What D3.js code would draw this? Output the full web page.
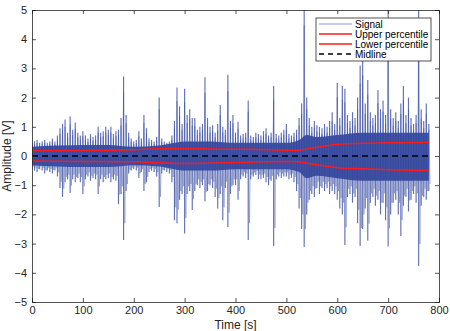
<!DOCTYPE html>
<html><head><meta charset="utf-8">
<script src="https://cdn.jsdelivr.net/npm/d3@7"></script>
<style>
html,body{margin:0;padding:0;background:#fff;}
svg{display:block;font-family:"Liberation Sans",Arial,sans-serif;}
</style></head>
<body>
<svg id="c" width="450" height="331"></svg>
<script>
// ---- data ----
const binStart = 0, binStep = 5; // seconds per envelope bin
const signalHigh = [
 0.45,0.5,0.55,0.45,0.5,0.55,0.45,0.5,0.6,0.5,
 0.7,0.95,1.1,1.25,0.8,1.35,0.9,1.15,0.8,0.7,
 0.85,0.7,0.6,0.75,0.65,0.7,1.0,0.8,0.85,1.0,
 0.9,1.0,0.75,0.85,0.9,1.3,2.72,1.4,0.8,0.6,
 0.5,0.55,0.85,0.6,1.4,0.95,0.6,0.55,0.5,0.65,
 2.0,0.6,0.5,0.45,0.5,0.7,1.2,2.35,1.7,1.1,
 2.3,1.4,1.6,1.3,1.3,0.9,1.0,1.1,2.7,1.3,
 1.0,1.05,0.8,1.1,1.75,1.0,0.9,2.78,1.2,1.4,
 0.8,1.17,0.7,0.75,0.8,1.9,0.7,0.65,0.8,0.75,
 0.7,0.85,0.95,0.7,0.8,2.4,0.75,0.7,0.8,0.9,
 1.1,0.75,0.7,0.8,0.9,1.3,1.8,5.6,2.0,1.3,
 1.0,1.2,1.05,1.0,0.95,1.1,1.0,1.2,1.5,1.1,
 2.5,1.3,2.4,2.3,1.4,1.2,1.5,1.3,2.0,3.1,
 3.45,1.8,2.6,1.5,1.3,1.4,2.26,1.6,1.9,1.4,
 5.6,1.6,1.3,1.5,1.2,1.8,2.4,1.4,2.0,1.3,
 1.1,1.4,5.6,1.6,1.2,1.8,1.1
];
const signalLow = [
 -0.45,-0.5,-0.55,-0.45,-0.5,-0.6,-0.5,-0.55,-0.6,-0.5,
 -0.7,-1.1,-1.4,-0.9,-0.8,-1.27,-0.8,-0.9,-0.75,-0.9,
 -1.3,-0.8,-0.7,-0.85,-0.75,-0.8,-1.3,-0.8,-0.9,-0.8,
 -0.75,-0.9,-0.8,-0.85,-1.65,-1.3,-2.88,-1.2,-0.6,-0.5,
 -0.45,-0.5,-0.75,-0.55,-1.2,-0.9,-0.55,-0.5,-0.55,-0.7,
 -1.75,-0.6,-0.5,-0.55,-0.6,-0.9,-2.2,-2.3,-1.5,-1.3,
 -2.65,-1.3,-1.2,-1.85,-1.2,-1.0,-1.1,-1.0,-1.55,-1.2,
 -1.0,-1.1,-1.4,-1.8,-1.3,-2.2,-1.1,-2.43,-1.3,-1.0,
 -1.0,-1.5,-0.8,-0.7,-0.75,-2.88,-0.8,-0.7,-0.65,-0.8,
 -0.8,-0.75,-0.9,-1.0,-0.85,-3.08,-0.8,-0.7,-0.75,-0.7,
 -0.7,-0.8,-0.75,-0.9,-1.2,-1.8,-2.5,-3.12,-2.0,-1.5,
 -1.3,-1.4,-1.1,-1.3,-1.1,-1.2,-1.1,-1.3,-1.2,-1.3,
 -1.5,-1.8,-2.0,-3.05,-1.4,-1.3,-1.6,-1.4,-2.3,-3.08,
 -2.5,-1.8,-2.9,-1.6,-1.4,-1.7,-1.5,-2.0,-1.6,-2.2,
 -3.1,-2.0,-1.6,-1.5,-2.0,-2.74,-1.7,-1.4,-1.9,-1.5,
 -1.3,-1.6,-3.77,-1.7,-1.4,-1.5,-1.2
];
// dense core of the signal (solid dark band)
const coreTime = [0,50,100,150,200,250,280,300,350,400,450,500,525,540,560,600,650,700,780];
const coreHigh = [0.32,0.36,0.38,0.38,0.32,0.36,0.45,0.5,0.5,0.45,0.45,0.45,0.55,0.72,0.65,0.72,0.8,0.8,0.8];
const coreLow  = [-0.32,-0.36,-0.38,-0.38,-0.32,-0.36,-0.45,-0.5,-0.5,-0.45,-0.45,-0.45,-0.55,-0.76,-0.68,-0.76,-0.85,-0.85,-0.85];
const pctTime  = [0,100,200,250,300,350,400,450,500,520,560,600,650,700,780];
const pctUpper = [0.18,0.19,0.21,0.25,0.25,0.24,0.23,0.22,0.2,0.2,0.3,0.4,0.44,0.45,0.47];
const pctLower = [-0.17,-0.19,-0.2,-0.23,-0.26,-0.24,-0.22,-0.2,-0.19,-0.2,-0.3,-0.4,-0.44,-0.47,-0.5];
const midTime  = [0,780];
const midValue = [0,0];
const xTicks = [0,100,200,300,400,500,600,700,800];
const yTicks = [-5,-4,-3,-2,-1,0,1,2,3,4,5];
const legendLabels = ["Signal","Upper percentile","Lower percentile","Midline"];

// ---- layout ----
const L = 32, R = 439, T = 10, B = 302;
const svg = d3.select("#c");
const x = d3.scaleLinear().domain([0,800]).range([L,R]);
const y = d3.scaleLinear().domain([-5,5]).range([B,T]);

svg.append("defs").append("clipPath").attr("id","clip")
  .append("rect").attr("x",L).attr("y",T).attr("width",R-L).attr("height",B-T);

const plot = svg.append("g").attr("clip-path","url(#clip)");

// signal: envelope strokes per bin
const bins = signalHigh.map((h,i)=>({t: binStart + i*binStep, hi: h, lo: signalLow[i]}));
plot.selectAll("line.sig").data(bins).enter().append("line")
  .attr("x1",d=>x(d.t)).attr("x2",d=>x(d.t))
  .attr("y1",d=>y(d.hi)).attr("y2",d=>y(d.lo))
  .attr("stroke","#3a4da2").attr("stroke-opacity",0.8).attr("stroke-width",1.15);
// zigzag linking bins (thin)
const zz = [];
bins.forEach(d=>{ zz.push([d.t, d.hi*0.8]); zz.push([d.t+binStep/2, d.lo*0.8]); });
const line = d3.line().x(d=>x(d[0])).y(d=>y(d[1]));
plot.append("path").datum(zz).attr("d",line)
  .attr("fill","none").attr("stroke","#3a4da2").attr("stroke-opacity",0.5).attr("stroke-width",0.7);
// dense core
const core = coreTime.map((t,i)=>({t, hi: coreHigh[i], lo: coreLow[i]}));
plot.append("path").datum(core)
  .attr("d", d3.area().x(d=>x(d.t)).y0(d=>y(d.lo)).y1(d=>y(d.hi)).curve(d3.curveMonotoneX))
  .attr("fill","#34479d").attr("fill-opacity",0.92);

// percentile lines
const pu = pctTime.map((t,i)=>[t,pctUpper[i]]);
const pl = pctTime.map((t,i)=>[t,pctLower[i]]);
const sm = d3.line().x(d=>x(d[0])).y(d=>y(d[1])).curve(d3.curveMonotoneX);
plot.append("path").datum(pu).attr("d",sm).attr("fill","none").attr("stroke","#ff1a1a").attr("stroke-width",1.5);
plot.append("path").datum(pl).attr("d",sm).attr("fill","none").attr("stroke","#ff1a1a").attr("stroke-width",1.5);
plot.append("path").datum(midTime.map((t,i)=>[t,midValue[i]])).attr("d",line)
  .attr("fill","none").attr("stroke","#000").attr("stroke-width",1.5).attr("stroke-dasharray","6,4");

// axes (MATLAB style, inward ticks, box)
const axColor = "#262626";
const gx = svg.append("g").attr("transform",`translate(0,${B})`)
  .call(d3.axisBottom(x).tickValues(xTicks).tickSize(-4).tickPadding(4));
const gxt = svg.append("g").attr("transform",`translate(0,${T})`)
  .call(d3.axisTop(x).tickValues(xTicks).tickSize(-4).tickFormat(""));
const gy = svg.append("g").attr("transform",`translate(${L},0)`)
  .call(d3.axisLeft(y).tickValues(yTicks).tickSize(-4).tickPadding(5));
const gyr = svg.append("g").attr("transform",`translate(${R},0)`)
  .call(d3.axisRight(y).tickValues(yTicks).tickSize(-4).tickFormat(""));
[gx,gxt,gy,gyr].forEach(g=>{
  g.select(".domain").attr("stroke",axColor).attr("stroke-width",0.8);
  g.selectAll(".tick line").attr("stroke",axColor).attr("stroke-width",0.8);
  g.selectAll("text").attr("fill",axColor).attr("font-size",11)
   .attr("font-family","'Liberation Sans',Arial,sans-serif");
});

svg.append("text").attr("x",(L+R)/2).attr("y",329).attr("text-anchor","middle")
  .attr("font-size",12).attr("fill",axColor).text("Time [s]");
svg.append("text").attr("transform",`translate(11,${(T+B)/2}) rotate(-90)`)
  .attr("text-anchor","middle").attr("font-size",12).attr("fill",axColor).text("Amplitude [V]");

// legend
const lg = svg.append("g");
lg.append("rect").attr("x",316).attr("y",18).attr("width",115).attr("height",43)
  .attr("fill","#fff").attr("stroke","#262626").attr("stroke-width",0.8);
const styles = [
  {stroke:"#8795d4",w:1,dash:null},
  {stroke:"#ff1a1a",w:1.5,dash:null},
  {stroke:"#ff1a1a",w:1.5,dash:null},
  {stroke:"#000",w:1.5,dash:"5,4"}
];
legendLabels.forEach((lab,i)=>{
  const yy = 24 + i*10;
  lg.append("line").attr("x1",319).attr("x2",352).attr("y1",yy).attr("y2",yy)
    .attr("stroke",styles[i].stroke).attr("stroke-width",styles[i].w)
    .attr("stroke-dasharray",styles[i].dash);
  lg.append("text").attr("x",355).attr("y",yy+3.5).attr("font-size",10)
    .attr("fill","#000").text(lab);
});
</script>
</body></html>
